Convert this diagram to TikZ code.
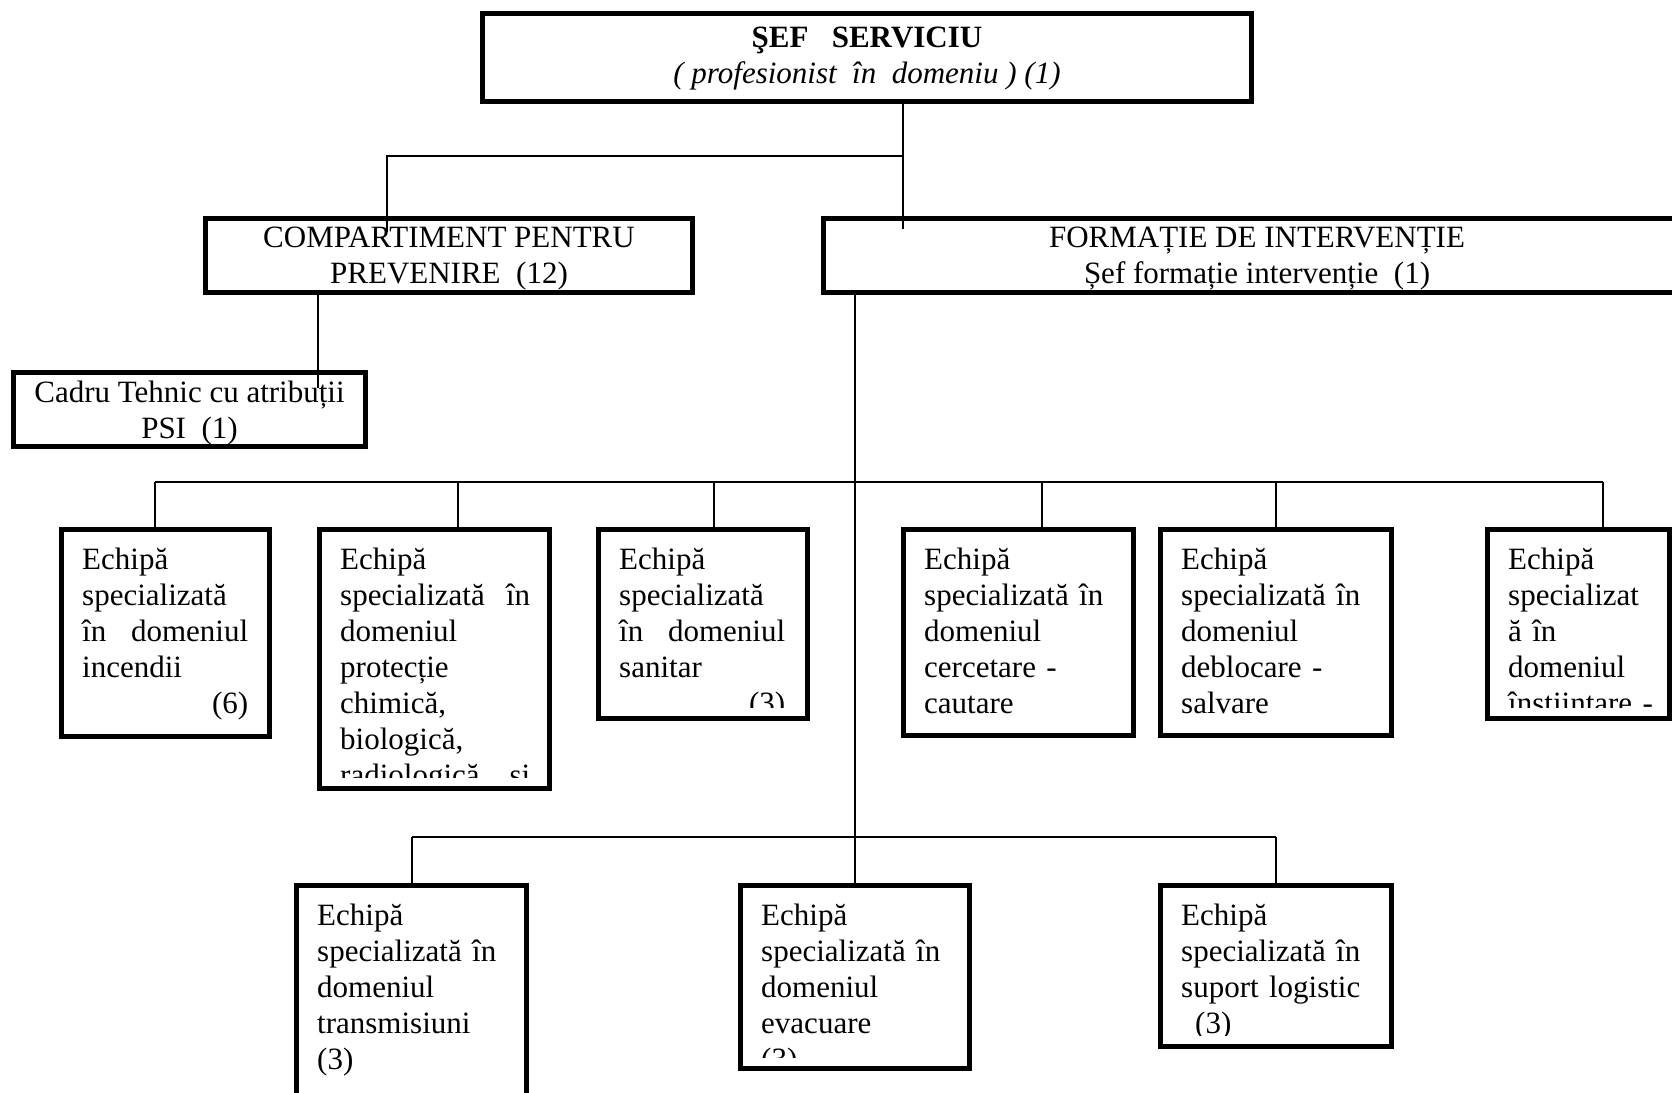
\documentclass[tikz,border=0pt]{standalone}
\usepackage{fontspec}
\setmainfont{Liberation Serif}
\begin{document}
\begin{tikzpicture}[x=1pt,y=-1pt,
  box/.style={draw, line width=5pt, inner sep=0pt, outer sep=0pt, rectangle},
  conn/.style={line width=1.4pt},
  txt/.style={inner sep=0pt, anchor=base west, align=left, font=\fontsize{31}{36}\selectfont},
  hd/.style={font=\fontsize{31}{36}\selectfont, align=center, inner sep=0pt}]
\useasboundingbox (0,0) rectangle (1672,1092);
\clip (0,0) rectangle (1672,1092);

% upper boxes
\node[box, minimum width=769pt, minimum height=88pt] (top) at (867,57.5) {};
\node[hd] (ttop) at ([yshift=-1pt]top.center)
  {\textbf{ŞEF~~ SERVICIU}\\\textit{( profesionist~ în~ domeniu )~(1)}};
\node[box, minimum width=487pt, minimum height=74pt] (comp) at (449,255.5) {};
\node[hd] (tcomp) at ([yshift=-3pt]comp.center) {COMPARTIMENT PENTRU\\PREVENIRE~ (12)};
\node[box, minimum width=352pt, minimum height=74pt] (cadru) at (189.5,409.5) {};
\node[hd] (tcadru) at ([yshift=-4pt]cadru.center) {Cadru Tehnic cu atribuții\\PSI~ (1)};
\node[box, minimum width=867pt, minimum height=74pt] (form) at (1257,255.5) {};
\node[hd] (tform) at ([yshift=-3pt]form.center) {FORMAȚIE DE INTERVENȚIE\\Șef formație intervenție~ (1)};

% row boxes
\node[box, minimum width=208pt, minimum height=207pt] (b1) at (165.5,633) {};
\node[box, minimum width=230pt, minimum height=259pt] (b2) at (434.5,659) {};
\node[box, minimum width=209pt, minimum height=189pt] (b3) at (703,624) {};
\node[box, minimum width=230pt, minimum height=206pt] (b4) at (1018.5,632.5) {};
\node[box, minimum width=231pt, minimum height=206pt] (b5) at (1276,632.5) {};
\node[box, minimum width=182pt, minimum height=189pt] (b6) at (1578.5,624) {};
\node[box, minimum width=230pt, minimum height=212pt] (e1) at (411.5,991.5) {};
\node[box, minimum width=229pt, minimum height=183pt] (e2) at (855,977) {};
\node[box, minimum width=231pt, minimum height=161pt] (e3) at (1276,966) {};

% texts, clipped to their boxes
\foreach \b/\w/\t in {
  b1/166/{Echipă\\specializată\\în\hfill domeniul\\incendii\\\hfill(6)},
  b2/190/{Echipă\\specializată\hfill în\\domeniul\\protecție\\chimică,\\biologică,\\radiologică\hfill si},
  b3/166/{Echipă\\specializată\\în\hfill domeniul\\sanitar\\\hfill(3)},
  b4/190/{Echipă\\specializată în\\domeniul\\cercetare -\\cautare},
  b5/190/{Echipă\\specializată în\\domeniul\\deblocare -\\salvare},
  b6/150/{Echipă\\specializat\\ă în\\domeniul\\înștiințare -},
  e1/190/{Echipă\\specializată în\\domeniul\\transmisiuni\\(3)},
  e2/190/{Echipă\\specializată în\\domeniul\\evacuare\\(3)},
  e3/190/{Echipă\\specializată în\\suport logistic\\\hspace*{14pt}(3)}}{
  \begin{scope}
    \clip ([xshift=3pt,yshift=-3pt]\b.north west) rectangle ([xshift=-3pt,yshift=11.5pt]\b.south east);
    \node[txt, text width=\w pt] (t\b) at ([xshift=20.5pt,yshift=-39.5pt]\b.north west) {\t};
  \end{scope}
}

% connectors
\coordinate (j1) at (903,156);
\coordinate (fe) at (903,229);
\coordinate (ce) at (387,232);
\coordinate (ke) at (318,388);
\draw[conn] (top.south -| j1) -- (fe);
\draw[conn] (j1) -| (ce);
\draw[conn] (comp.south -| ke) -- (ke);
\draw[conn] (form.south -| e2.north) -- (e2.north);

\coordinate (d1) at (155,482);
\coordinate (d2) at (458,482);
\coordinate (d3) at (714,482);
\coordinate (d4) at (1042,482);
\coordinate (d5) at (1276,482);
\coordinate (d6) at (1603,482);
\draw[conn] (d1) -- (d6);
\foreach \i in {1,...,6}{\draw[conn] (d\i) -- (d\i |- b\i.north);}

\coordinate (g1) at (412,837);
\coordinate (g3) at (1276,837);
\draw[conn] (g1) -- (g3);
\draw[conn] (g1) -- (g1 |- e1.north);
\draw[conn] (g3) -- (g3 |- e3.north);
\end{tikzpicture}
\end{document}
